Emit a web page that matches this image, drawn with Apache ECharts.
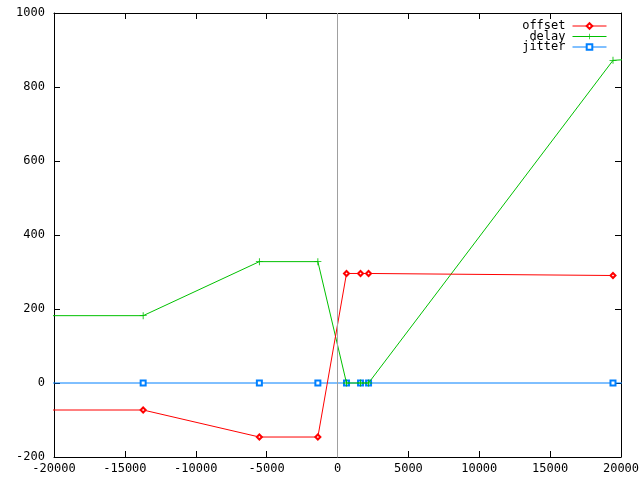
<!DOCTYPE html>
<html>
<head>
<meta charset="utf-8">
<script src="https://cdn.jsdelivr.net/npm/echarts@6/dist/echarts.min.js"></script>
<style>html,body{margin:0;padding:0;background:#fff;}#c{width:640px;height:480px;}</style>
</head>
<body>
<div id="c"></div>
<script>
// sample times (x), including points just outside the visible range
var times  = [-25000, -13710, -5512, -1385, 636, 1625, 2191, 19435, 25000];
var offset = [-73, -73, -146, -146, 296, 296, 296, 290.5, null];
var delay  = [182, 182, 328, 328, 0, 0, 0, 872, 885];
var jitter = [0, 0, 0, 0, 0, 0, 0, 0, 0];
var seriesNames = ['offset', 'delay', 'jitter'];
var xTicks = {min: -20000, max: 20000, interval: 5000};
var yTicks = {min: -200, max: 1000, interval: 200};

function pairs(vals) {
  return times.map(function (t, i) { return [t, vals[i]]; });
}

var FONT = 'DejaVu Sans Mono';
var plusPath = 'path://M-1,-0.12H1V0.12H-1Z M-0.12,-1H0.12V1H-0.12Z';
function plain(v) { return String(v); }

var chart = echarts.init(document.getElementById('c'), null, {renderer: 'canvas'});

function legendFor(name, top) {
  return {
    data: [name], right: 33, top: top, orient: 'vertical', align: 'right',
    itemWidth: 34, itemHeight: 7, itemGap: 0, padding: 0,
    lineStyle: {width: 1},
    itemStyle: {borderWidth: 1},
    textStyle: {fontFamily: FONT, fontSize: 12, color: '#000', padding: [0, 2, 0, 0]},
    selectedMode: false
  };
}

var axisCommon = {
  axisLine: {show: true, onZero: false, lineStyle: {color: '#000', width: 1}},
  axisTick: {show: true, inside: true, length: 6, lineStyle: {color: '#000'}},
  splitLine: {show: false}
};

chart.setOption({
  animation: false,
  backgroundColor: '#fff',
  grid: {left: 54, right: 19, top: 13, bottom: 23, containLabel: false, outerBoundsMode: 'none'},
  legend: [legendFor('offset', 20), legendFor('delay', 30.5), legendFor('jitter', 41)],
  xAxis: [
    Object.assign({type: 'value', position: 'bottom', min: xTicks.min, max: xTicks.max, interval: xTicks.interval,
      axisLabel: {fontFamily: FONT, fontSize: 12, color: '#000', margin: 6, showMinLabel: true, showMaxLabel: true, formatter: plain}}, axisCommon),
    Object.assign({type: 'value', position: 'top', min: xTicks.min, max: xTicks.max, interval: xTicks.interval,
      axisLabel: {show: false}}, axisCommon)
  ],
  yAxis: [
    Object.assign({type: 'value', position: 'left', min: yTicks.min, max: yTicks.max, interval: yTicks.interval,
      axisLabel: {fontFamily: FONT, fontSize: 12, color: '#000', margin: 9, formatter: plain}}, axisCommon),
    Object.assign({type: 'value', position: 'right', min: yTicks.min, max: yTicks.max, interval: yTicks.interval,
      axisLabel: {show: false}}, axisCommon)
  ],
  series: [
    {
      name: seriesNames[2], type: 'line', data: pairs(jitter), clip: true,
      color: '#0080ff', lineStyle: {width: 1, color: '#0080ff'},
      symbol: 'emptyRect', symbolSize: 5, showAllSymbol: true,
      itemStyle: {color: '#0080ff', borderColor: '#0080ff', borderWidth: 1},
      markLine: {
        silent: true, symbol: 'none', label: {show: false},
        lineStyle: {color: '#a0a0a0', type: 'solid', width: 1},
        data: [{xAxis: 0}]
      },
      z: 2
    },
    {
      name: seriesNames[1], type: 'line', data: pairs(delay), clip: true,
      color: '#00c000', lineStyle: {width: 1, color: '#00c000'},
      symbol: plusPath, symbolSize: 7, showAllSymbol: true,
      itemStyle: {color: '#00c000'}, z: 3
    },
    {
      name: seriesNames[0], type: 'line', data: pairs(offset), clip: true,
      color: '#ff0000', lineStyle: {width: 1, color: '#ff0000'},
      symbol: 'emptyDiamond', symbolSize: 5, showAllSymbol: true,
      itemStyle: {color: '#ff0000', borderColor: '#ff0000', borderWidth: 1}, z: 4
    }
  ]
});
</script>
</body>
</html>
